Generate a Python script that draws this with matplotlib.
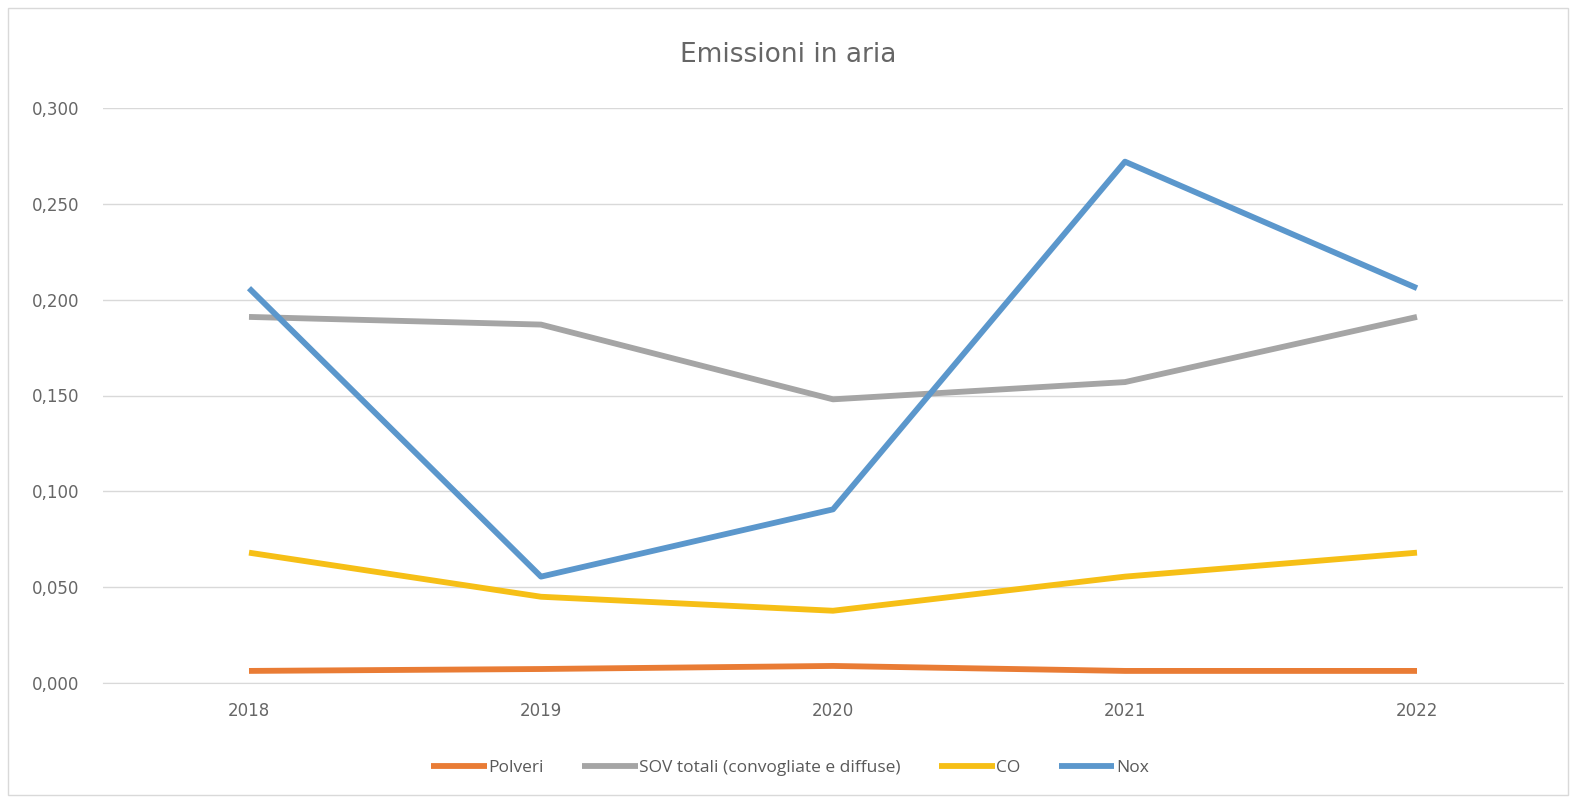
import matplotlib

matplotlib.use("Agg")
import matplotlib.pyplot as plt
from matplotlib.patches import Rectangle
from matplotlib.ticker import FuncFormatter

years = ["2018", "2019", "2020", "2021", "2022"]
polveri = [0.0063, 0.0073, 0.0089, 0.0063, 0.0063]
sov = [0.191, 0.187, 0.148, 0.157, 0.191]
co = [0.068, 0.045, 0.0377, 0.0555, 0.068]
nox = [0.206, 0.0555, 0.0906, 0.272, 0.206]

series = [
    ("Polveri", polveri, "#E97C35"),
    ("SOV totali (convogliate e diffuse)", sov, "#A5A5A5"),
    ("CO", co, "#F6BF16"),
    ("Nox", nox, "#5B97CC"),
]

W, H = 1576, 802
fig = plt.figure(figsize=(W / 100, H / 100), dpi=100)
fig.patches.append(Rectangle((8 / W, 7 / H), 1560 / W, 787 / H, transform=fig.transFigure,
                             fill=False, edgecolor="#D9D9D9", lw=1))

ax = fig.add_axes([103 / W, 1 - 683 / H, 1460 / W, 575 / H])
x = list(range(len(years)))
for name, vals, col in series:
    ax.plot(x, vals, color=col, lw=4.2, label=name, solid_capstyle="butt")

ax.set_xlim(-0.5, len(years) - 0.5)
ax.set_ylim(0, 0.3)
ax.set_yticks([0, 0.05, 0.1, 0.15, 0.2, 0.25, 0.3])
ax.yaxis.set_major_formatter(FuncFormatter(lambda v, p: f"{v:.3f}".replace(".", ",")))
ax.set_xticks(x)
ax.set_xticklabels(years)
ax.grid(axis="y", color="#D9D9D9", lw=1)
ax.set_axisbelow(True)
for s in ax.spines.values():
    s.set_visible(False)
ax.spines["bottom"].set_visible(True)
ax.spines["bottom"].set_color("#D9D9D9")
ax.tick_params(length=0, labelsize=12, labelcolor="#666666")
ax.tick_params(axis="y", pad=17)
ax.tick_params(axis="x", pad=14)

fig.text(0.5, 1 - 55 / H, "Emissioni in aria", ha="center", va="center",
         fontsize=19, color="#666666")

fig.legend(loc="center", bbox_to_anchor=(790 / W, 1 - 768 / H), ncol=4, frameon=False,
           labelcolor="#595959", handlelength=3.2, handletextpad=0.1,
           columnspacing=2.2, prop={"family": ["Liberation Sans Narrow", "Open Sans"], "size": 12.5})

fig.savefig("out.png", dpi=100)
